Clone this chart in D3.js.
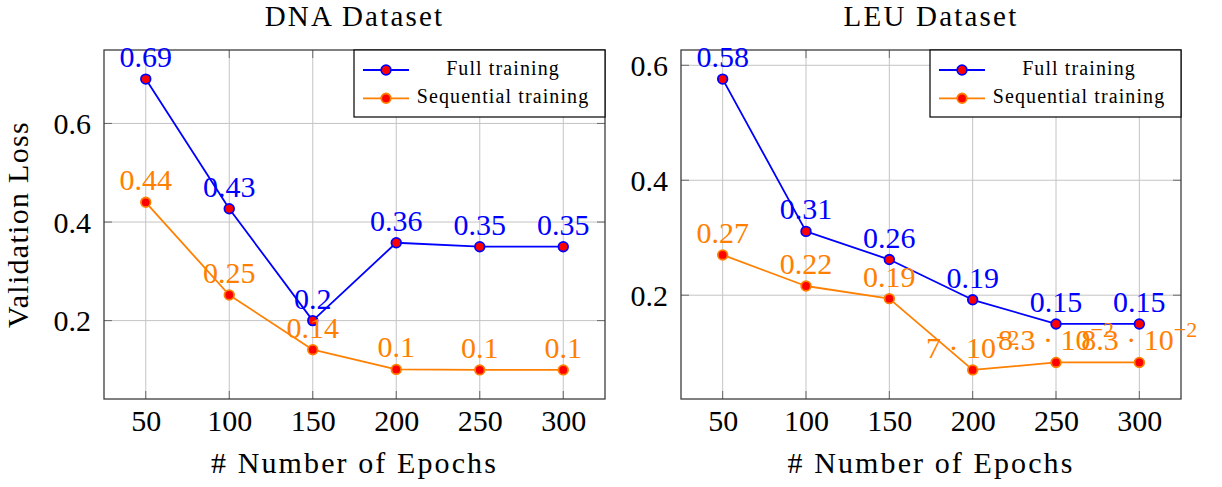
<!DOCTYPE html>
<html>
<head>
<meta charset="utf-8">
<script src="https://cdn.jsdelivr.net/npm/d3@7"></script>
<style>
  html, body { margin: 0; padding: 0; background: #fff; }
  svg text { font-family: "Liberation Serif", "Times New Roman", serif; }
</style>
</head>
<body>
<svg id="chart" width="1222" height="487"></svg>
<script>
// Validation loss per number of training epochs
const epochs = [50, 100, 150, 200, 250, 300];
const dnaFull = [0.69, 0.427, 0.2, 0.358, 0.35, 0.35];
const dnaSeq = [0.44, 0.252, 0.141, 0.101, 0.1, 0.1];
const leuFull = [0.576, 0.311, 0.262, 0.192, 0.15, 0.15];
const leuSeq = [0.27, 0.216, 0.194, 0.07, 0.083, 0.083];
const yTicks = [0.2, 0.4, 0.6];
const seriesNames = ["Full training", "Sequential training"];
const seriesColors = ["#0000ff", "#ff8000"];
const titles = ["DNA Dataset", "LEU Dataset"];
const xLabel = "# Number of Epochs";
const yLabel = "Validation Loss";

const svg = d3.select("#chart");
const boxTop = 50, boxBottom = 399;

const panels = [
  { title: titles[0], series: [dnaFull, dnaSeq], left: 104, right: 605, showYLabel: true },
  { title: titles[1], series: [leuFull, leuSeq], left: 681, right: 1181, showYLabel: false }
];

// pgfplots-like number printing: two decimals, trailing zeros dropped,
// scientific notation below 0.1
function addValueLabel(g, v, x, y, color) {
  const t = g.append("text")
    .attr("x", x).attr("y", y)
    .attr("text-anchor", "middle")
    .attr("fill", color)
    .attr("font-size", 30);
  if (v < 0.1) {
    const e = Math.floor(Math.log10(v));
    const m = +(v / Math.pow(10, e)).toFixed(2);
    t.append("tspan").text(`${m} · 10`);
    t.append("tspan").attr("font-size", 22).attr("dy", -13).text(`\u2212${-e}`);
  } else {
    t.text(String(+v.toFixed(2)));
  }
}

function padExtent(values, frac) {
  const [lo, hi] = d3.extent(values);
  const pad = (hi - lo) * frac;
  return [lo - pad, hi + pad];
}

panels.forEach(p => {
  const g = svg.append("g");
  const x = d3.scaleLinear().domain(padExtent(epochs, 0.1)).range([p.left, p.right]);
  const y = d3.scaleLinear().domain(padExtent(p.series.flat(), 0.1)).range([boxBottom, boxTop]);

  // grid
  g.append("g").selectAll("line").data(epochs).join("line")
    .attr("x1", d => x(d)).attr("x2", d => x(d))
    .attr("y1", boxTop).attr("y2", boxBottom)
    .attr("stroke", "#c4c4c4").attr("stroke-width", 1);
  g.append("g").selectAll("line").data(yTicks).join("line")
    .attr("x1", p.left).attr("x2", p.right)
    .attr("y1", d => y(d)).attr("y2", d => y(d))
    .attr("stroke", "#c4c4c4").attr("stroke-width", 1);

  // inner tick marks on all four sides
  const tickLen = 8;
  const ticks = g.append("g").attr("stroke", "#6a6a6a").attr("stroke-width", 1);
  epochs.forEach(d => {
    ticks.append("line").attr("x1", x(d)).attr("x2", x(d)).attr("y1", boxBottom).attr("y2", boxBottom - tickLen);
    ticks.append("line").attr("x1", x(d)).attr("x2", x(d)).attr("y1", boxTop).attr("y2", boxTop + tickLen);
  });
  yTicks.forEach(d => {
    ticks.append("line").attr("x1", p.left).attr("x2", p.left + tickLen).attr("y1", y(d)).attr("y2", y(d));
    ticks.append("line").attr("x1", p.right).attr("x2", p.right - tickLen).attr("y1", y(d)).attr("y2", y(d));
  });

  // axis box
  g.append("rect")
    .attr("x", p.left).attr("y", boxTop)
    .attr("width", p.right - p.left).attr("height", boxBottom - boxTop)
    .attr("fill", "none").attr("stroke", "#3c3c3c").attr("stroke-width", 1.3);

  // tick labels through d3 axes
  const ax = g.append("g").attr("transform", `translate(0,${boxBottom})`)
    .call(d3.axisBottom(x).tickValues(epochs).tickSize(0).tickFormat(d3.format("d")));
  ax.select(".domain").remove();
  ax.selectAll("text").attr("y", 32).attr("dy", null)
    .attr("font-size", 30).attr("fill", "#000")
    .style("font-family", "'Liberation Serif', serif");

  const ay = g.append("g").attr("transform", `translate(${p.left},0)`)
    .call(d3.axisLeft(y).tickValues(yTicks).tickSize(0).tickPadding(13).tickFormat(d3.format(".1f")));
  ay.select(".domain").remove();
  ay.selectAll("text").attr("dy", "0.34em")
    .attr("font-size", 30).attr("fill", "#000")
    .style("font-family", "'Liberation Serif', serif");

  // title and axis labels
  const cx = (p.left + p.right) / 2;
  g.append("text").attr("x", cx).attr("y", 26).attr("text-anchor", "middle")
    .attr("font-size", 29).style("letter-spacing", "2.2px").text(p.title);
  g.append("text").attr("x", cx).attr("y", 473).attr("text-anchor", "middle")
    .attr("font-size", 30).style("letter-spacing", "2.1px").text(xLabel);
  if (p.showYLabel) {
    g.append("text")
      .attr("transform", `translate(28,${(boxTop + boxBottom) / 2}) rotate(-90)`)
      .attr("text-anchor", "middle")
      .attr("font-size", 30).style("letter-spacing", "1.3px").text(yLabel);
  }

  // series: line, markers, value labels
  const line = d3.line().x((d, i) => x(epochs[i])).y(d => y(d));
  p.series.forEach((vals, si) => {
    const color = seriesColors[si];
    g.append("path").datum(vals).attr("d", line)
      .attr("fill", "none").attr("stroke", color).attr("stroke-width", 1.8)
      .attr("stroke-linejoin", "round");
    g.append("g").selectAll("circle").data(vals).join("circle")
      .attr("cx", (d, i) => x(epochs[i])).attr("cy", d => y(d)).attr("r", 4.8)
      .attr("fill", "#ff0000").attr("stroke", color).attr("stroke-width", 1.8);
    const lg = g.append("g");
    vals.forEach((v, i) => addValueLabel(lg, v, x(epochs[i]), y(v) - 12, color));
  });

  // legend in the upper right corner
  const lw = 251, lh = 67;
  const lx = p.right - lw, ly = boxTop;
  const leg = g.append("g");
  leg.append("rect").attr("x", lx).attr("y", ly).attr("width", lw).attr("height", lh)
    .attr("fill", "#fff").attr("stroke", "#000").attr("stroke-width", 1.2);
  const textStart = lx + 61, textEnd = p.right - 14;
  seriesNames.forEach((name, si) => {
    const ry = ly + 20 + si * 28.3;
    leg.append("line").attr("x1", lx + 9).attr("x2", lx + 55).attr("y1", ry).attr("y2", ry)
      .attr("stroke", seriesColors[si]).attr("stroke-width", 1.8);
    leg.append("circle").attr("cx", lx + 32).attr("cy", ry).attr("r", 4.8)
      .attr("fill", "#ff0000").attr("stroke", seriesColors[si]).attr("stroke-width", 1.8);
    leg.append("text").attr("x", (textStart + textEnd) / 2).attr("y", ry + 5)
      .attr("text-anchor", "middle").attr("font-size", 20)
      .style("letter-spacing", "1.1px").text(name);
  });
});
</script>
</body>
</html>
